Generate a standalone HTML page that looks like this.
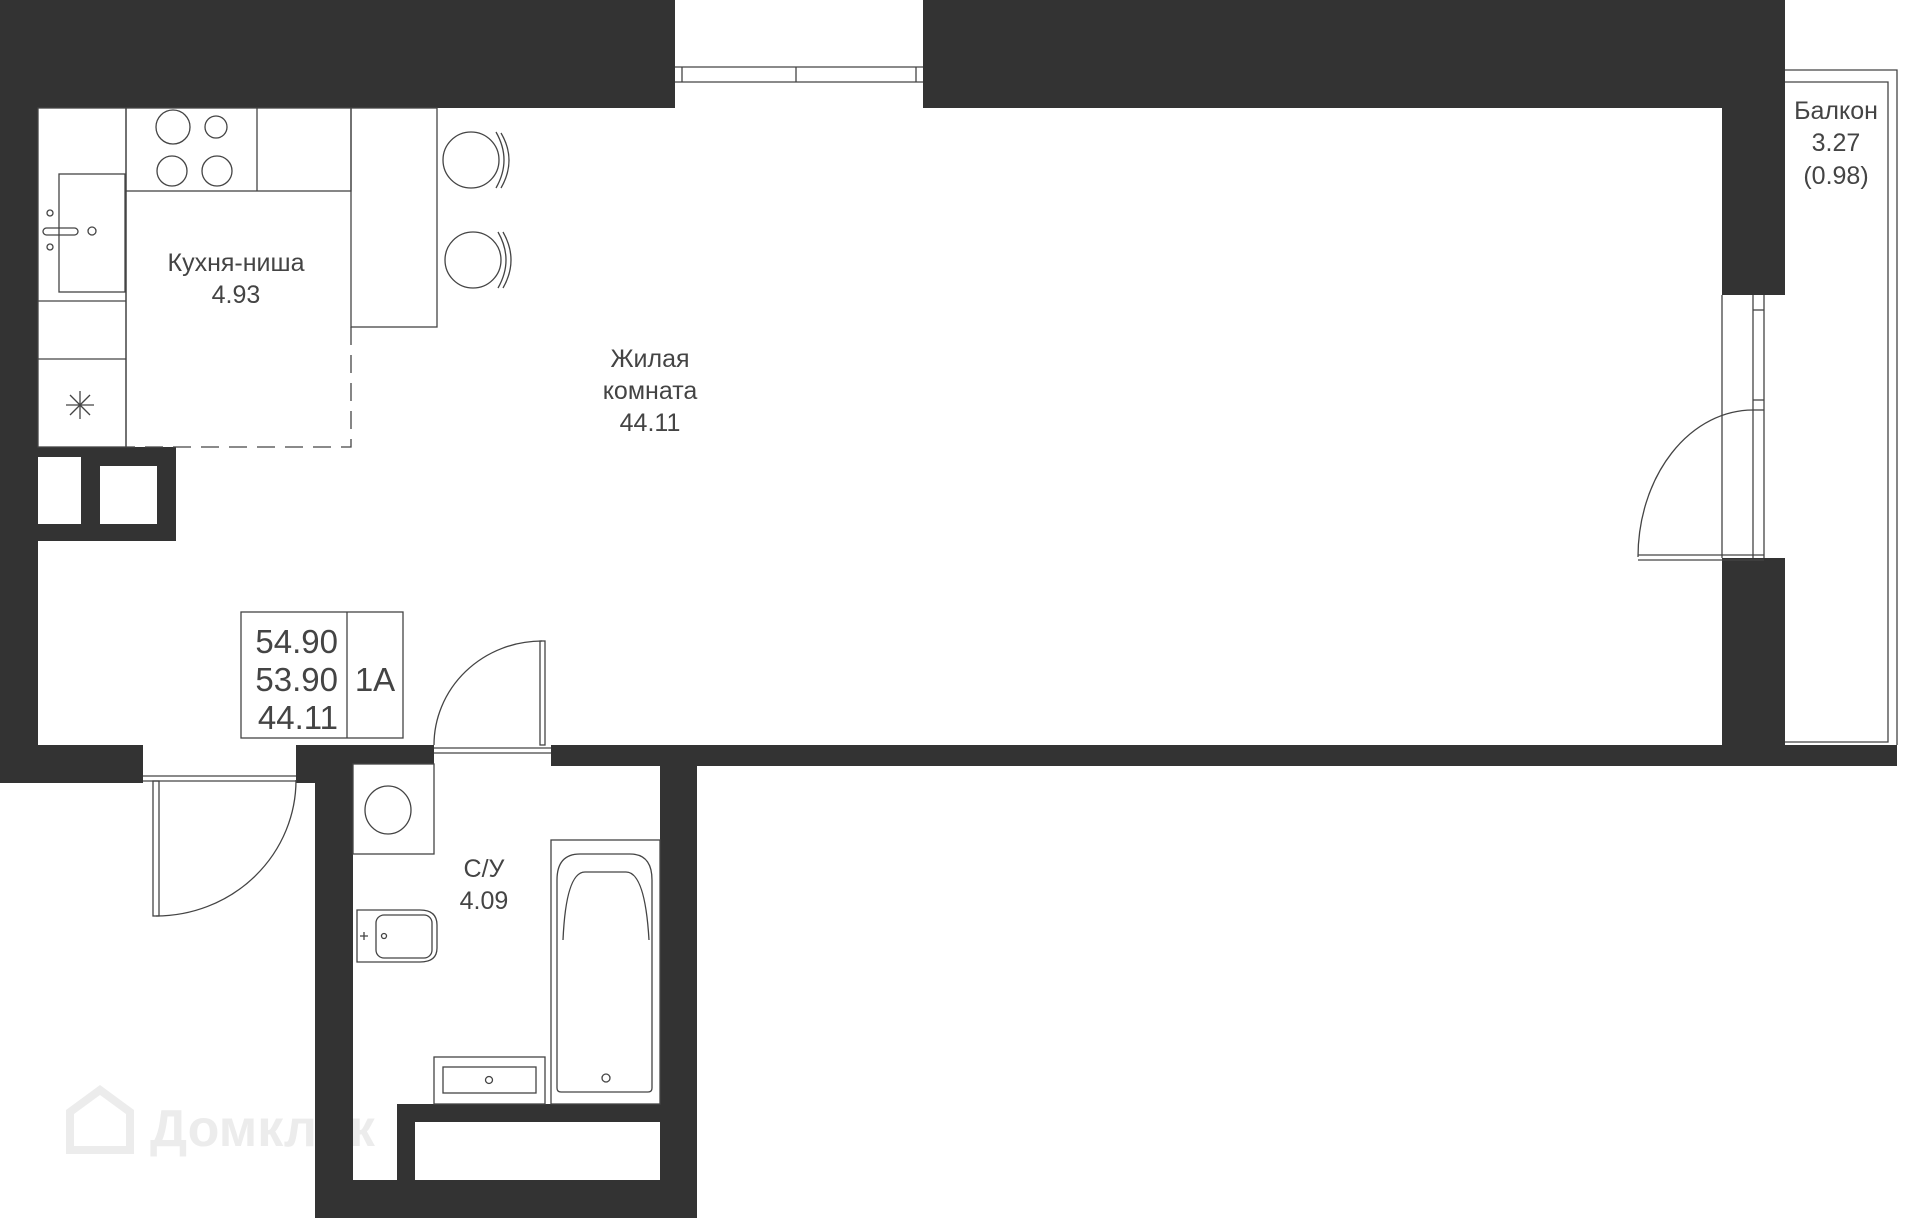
<!DOCTYPE html>
<html><head><meta charset="utf-8"><style>
html,body{margin:0;padding:0;background:#fff;}
svg{display:block;}
text{font-family:"Liberation Sans",sans-serif;fill:#444;}
</style></head><body>
<svg width="1920" height="1218" viewBox="0 0 1920 1218" xmlns="http://www.w3.org/2000/svg">
<text x="150" y="1146" font-size="52" style="fill:#ececec;font-weight:bold">Домклик</text>
<path d="M70 1150 V1112 L100 1090 L130 1112 V1150 Z" fill="none" stroke="#ececec" stroke-width="8"/>
<g fill="#333">
<rect x="0" y="0" width="675" height="108"/>
<rect x="923" y="0" width="862" height="108"/>
<rect x="0" y="0" width="38" height="783"/>
<rect x="1722" y="0" width="63" height="295"/>
<rect x="1722" y="558" width="63" height="208"/>
<rect x="0" y="447" width="176" height="94"/>
<rect x="0" y="745" width="143" height="38"/>
<rect x="296" y="745" width="138" height="19"/>
<rect x="296" y="745" width="57" height="38"/>
<rect x="551" y="745" width="1346" height="21"/>
<rect x="315" y="764" width="38" height="454"/>
<rect x="660" y="764" width="37" height="454"/>
<rect x="315" y="1180" width="382" height="38"/>
<rect x="397" y="1104" width="300" height="18"/>
<rect x="397" y="1104" width="18" height="76"/>
</g>
<rect x="38" y="457" width="43" height="67" fill="#fff"/>
<rect x="100" y="466" width="57" height="58" fill="#fff"/>
<g fill="none" stroke="#444" stroke-width="1.3">
<line x1="675" y1="67" x2="923" y2="67"/><line x1="675" y1="82" x2="923" y2="82"/>
<line x1="682" y1="67" x2="682" y2="82"/><line x1="916" y1="67" x2="916" y2="82"/><line x1="796" y1="67" x2="796" y2="82"/>
<rect x="38" y="108" width="88" height="339"/>
<line x1="38" y1="301" x2="126" y2="301"/><line x1="38" y1="359" x2="126" y2="359"/>
<rect x="59" y="174" width="66" height="118"/>
<rect x="126" y="108" width="225" height="83"/>
<line x1="257" y1="108" x2="257" y2="191"/>
<rect x="351" y="108" width="86" height="219"/>
<circle cx="173" cy="127" r="17"/><circle cx="216" cy="127" r="11"/>
<circle cx="172" cy="171" r="15"/><circle cx="217" cy="171" r="15"/>
<circle cx="50" cy="213" r="3"/><circle cx="50" cy="247" r="3"/><circle cx="92" cy="231" r="4"/>
<rect x="43" y="228" width="35" height="7" rx="3.5"/>
<path d="M126 191 V447" />
<path d="M351 327 V447 H126" stroke-dasharray="18 10"/>
<g transform="translate(80,405)"><line x1="-14" y1="0" x2="14" y2="0"/><line x1="0" y1="-14" x2="0" y2="14"/><line x1="-10" y1="-10" x2="10" y2="10"/><line x1="-10" y1="10" x2="10" y2="-10"/></g>
<circle cx="471" cy="160" r="28"/><path d="M496 132 Q512 160 496 188 M501 133 Q517 160 501 188"/>
<circle cx="473" cy="260" r="28"/><path d="M498 232 Q514 260 498 288 M503 232 Q519 260 503 288"/>
<path d="M1785 70 H1897 V745"/><path d="M1785 82 H1888 V742 H1785"/>
<line x1="1722" y1="295" x2="1722" y2="558"/><line x1="1753" y1="295" x2="1753" y2="558"/><line x1="1764" y1="295" x2="1764" y2="558"/>
<line x1="1753" y1="310" x2="1764" y2="310"/><line x1="1753" y1="400" x2="1764" y2="400"/><line x1="1753" y1="410" x2="1764" y2="410"/>
<path d="M1638 555 H1764 M1638 560 H1764"/>
<path d="M1638 557 A115 147 0 0 1 1753 410"/>
<path d="M143 776 H296 M143 781 H296"/>
<rect x="153" y="781" width="6" height="135"/>
<path d="M156 916 A140 136 0 0 0 296 780"/>
<path d="M434 748 H551 M434 753 H551"/>
<rect x="540" y="641" width="5" height="104"/>
<path d="M542 641 A108 104 0 0 0 434 745"/>
<rect x="353" y="764" width="81" height="90"/>
<ellipse cx="388" cy="810" rx="23" ry="24"/>
<path d="M357 910 H420 Q437 910 437 925 V948 Q437 962 420 962 H357 Z"/>
<rect x="376" y="915" width="56" height="43" rx="8"/>
<circle cx="384" cy="936" r="2.5"/><path d="M360 936 h8 M364 932 v8"/>
<rect x="551" y="840" width="109" height="264"/>
<path d="M557 1088 V880 Q557 854 580 854 H630 Q652 854 652 880 V1088 Q652 1092 648 1092 H561 Q557 1092 557 1088 Z"/>
<path d="M563 940 Q566 872 585 872 H626 Q645 872 649 940"/>
<circle cx="606" cy="1078" r="4"/>
<rect x="434" y="1057" width="111" height="47"/>
<rect x="443" y="1067" width="93" height="26"/>
<circle cx="489" cy="1080" r="3.5"/>
<rect x="241" y="612" width="162" height="126"/>
<line x1="347" y1="612" x2="347" y2="738"/>
</g>
<g font-size="25" text-anchor="middle">
<text x="236" y="271">Кухня-ниша</text>
<text x="236" y="303">4.93</text>
<text x="650" y="367">Жилая</text>
<text x="650" y="399">комната</text>
<text x="650" y="431">44.11</text>
<text x="1836" y="119">Балкон</text>
<text x="1836" y="151">3.27</text>
<text x="1836" y="184">(0.98)</text>
<text x="484" y="877">С/У</text>
<text x="484" y="909">4.09</text>
</g>
<g font-size="33">
<text x="338" y="653" text-anchor="end">54.90</text>
<text x="338" y="691" text-anchor="end">53.90</text>
<text x="338" y="729" text-anchor="end">44.11</text>
<text x="375" y="691" text-anchor="middle">1А</text>
</g>
</svg>
</body></html>
